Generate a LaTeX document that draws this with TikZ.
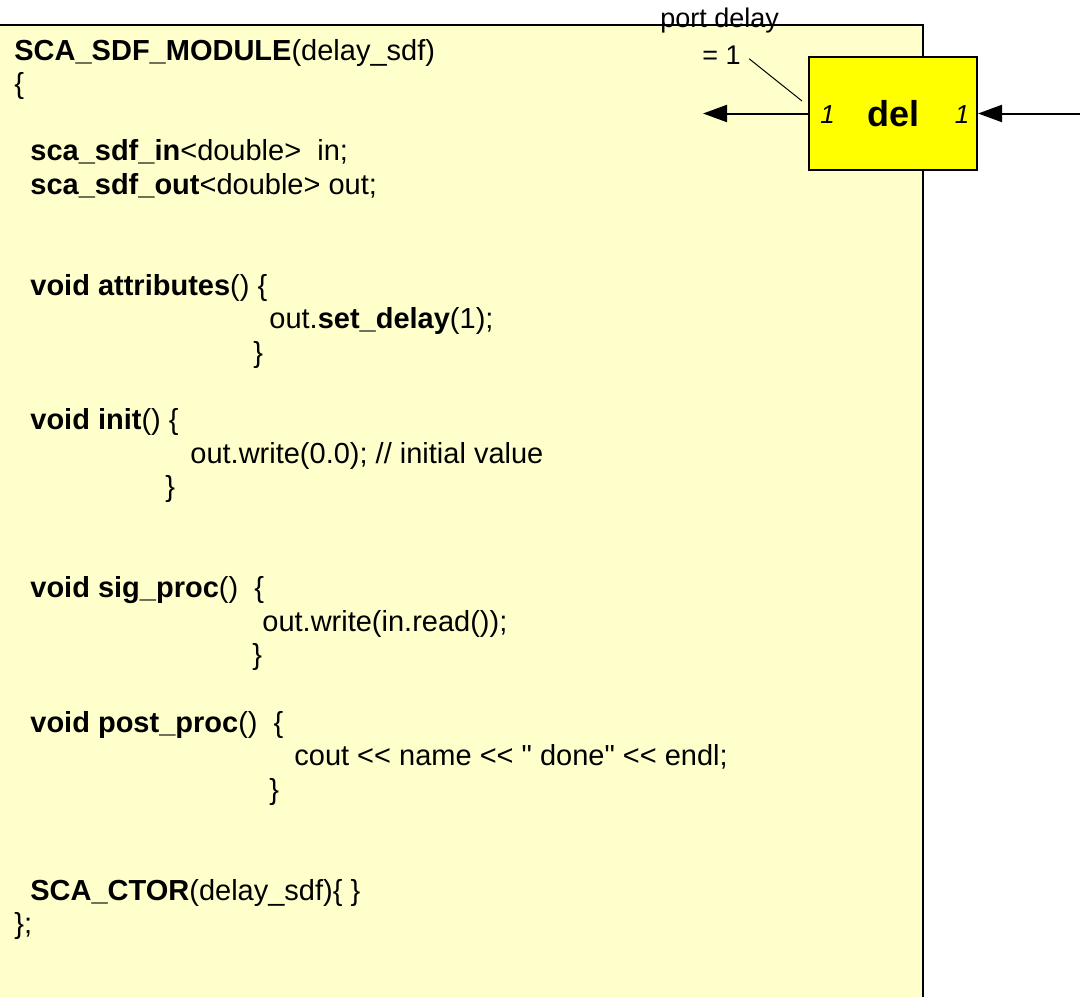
\documentclass[tikz,border=0pt]{standalone}
\usepackage{fontspec}
\setmainfont{Liberation Sans}[Ligatures=TeXOff]
\usepackage{xcolor}
\usetikzlibrary{arrows.meta}
\usetikzlibrary{positioning}
\definecolor{panelbg}{HTML}{FFFFCC}
\definecolor{blockbg}{HTML}{FFFF00}

\begin{document}
\begin{tikzpicture}[x=0.5pt, y=-0.5pt,
        code/.style={anchor=base west, inner sep=0pt, font=\fontsize{14.5}{17}\selectfont},
        note/.style={anchor=base west, inner sep=0pt, font=\fontsize{13.5}{16}\selectfont},
        portnum/.style={anchor=base, inner sep=0pt, font=\fontsize{13}{15}\selectfont\itshape},
        block/.style={draw, line width=1pt, fill=blockbg, minimum width=84pt, minimum height=56.5pt,
            inner sep=0pt, font=\fontsize{18}{21}\selectfont\bfseries},
        sig/.style={line width=1pt, -{Triangle[length=12pt, width=8.5pt]}}]
        \useasboundingbox (0,0) rectangle (1080,997);
        \fill[panelbg] (0,25) rectangle (923,997);
        \draw[line width=1pt] (0,25) -- (923,25) -- (923,997);
        \node[code] (hdr) at (14,60) {\textbf{SCA\_SDF\_MODULE}(delay\_sdf)};
        \node[code] (open) at (14,93.6) {\{};
        \node[code] (inport) at (30,160.8) {\textbf{sca\_sdf\_in}<double>\ \ in;};
        \node[code] (outport) at (30,194.4) {\textbf{sca\_sdf\_out}<double> out;};
        \node[code] (attr) at (30,295.2) {\textbf{void attributes}() \{};
        \node[code] (setdl) at (269,328.8) {out.\textbf{set\_delay}(1);};
        \node[code] (attrend) at (253,362.4) {\}};
        \node[code] (init) at (30,429.6) {\textbf{void init}() \{};
        \node[code] (initwr) at (190,463.2) {out.write(0.0); // initial value};
        \node[code] (initend) at (165,496.8) {\}};
        \node[code] (sig) at (30,597.6) {\textbf{void sig\_proc}()\ \ \{};
        \node[code] (sigwr) at (262,631.2) {out.write(in.read());};
        \node[code] (sigend) at (252,664.8) {\}};
        \node[code] (post) at (30,732) {\textbf{void post\_proc}()\ \ \{};
        \node[code] (postout) at (294,765.6) {cout <{}< name <{}< " done" <{}< endl;};
        \node[code] (postend) at (269,799.2) {\}};
        \node[code] (ctor) at (30,900) {\textbf{SCA\_CTOR}(delay\_sdf)\{ \}};
        \node[code] (close) at (14,933.6) {\};};
        \node[note] (ptag) at (660,27) {port delay};
        \node[note] (eqone) at (702,64) {= 1};
        \node[block] (delblk) at (893,113.5) {del};
        \node[portnum] (pleft) at (827.5,123) {1};
        \node[portnum] (pright) at (962,123) {1};
        \coordinate (outtip) at (703,113.5);
        \coordinate (intail) at (1080,113.5);
        \coordinate (tagend) at (802,101);
        \draw[sig] (delblk.west) -- (outtip);
        \draw[sig] (intail) -- (delblk.east);
        \draw[line width=0.5pt] ([xshift=4pt, yshift=-2pt]eqone.east) -- (tagend);
    \end{tikzpicture}
\end{document}
